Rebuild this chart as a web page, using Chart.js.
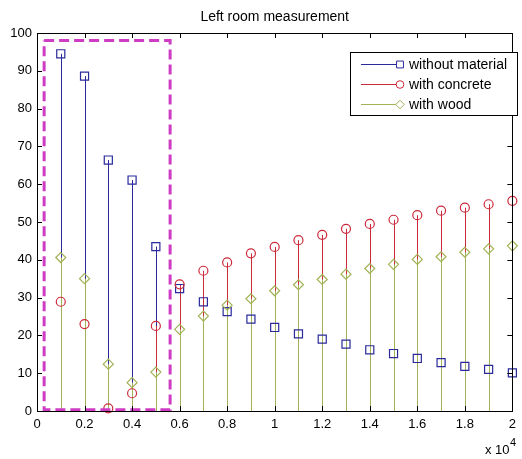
<!DOCTYPE html>
<html>
<head>
<meta charset="utf-8">
<script src="https://cdn.jsdelivr.net/npm/chart.js@4"></script>
<style>
  html, body { margin: 0; padding: 0; background: #fff; }
  #wrap { width: 522px; height: 459px; }
</style>
</head>
<body>
<div id="wrap"><canvas id="stemChart"></canvas></div>
<script>
// Datos del gráfico (frecuencia en Hz)
const frequencies = [1000, 2000, 3000, 4000, 5000, 6000, 7000, 8000, 9000, 10000,
    11000, 12000, 13000, 14000, 15000, 16000, 17000, 18000, 19000, 20000];
const withoutMaterial = [94.5, 88.6, 66.4, 61.1, 43.5, 32.4, 28.9, 26.3, 24.3, 22.1,
    20.4, 19.0, 17.7, 16.2, 15.2, 13.9, 12.8, 11.8, 11.0, 10.1];
const withConcrete = [28.9, 23.0, 0.7, 4.7, 22.5, 33.5, 37.1, 39.3, 41.7, 43.4,
    45.2, 46.6, 48.2, 49.5, 50.6, 51.8, 53.0, 53.8, 54.7, 55.6];
const withWood = [40.6, 35.0, 12.4, 7.5, 10.3, 21.6, 25.1, 28.0, 29.7, 31.8,
    33.4, 34.8, 36.2, 37.7, 38.8, 40.1, 40.8, 42.0, 42.9, 43.7];
const yTicks = [0, 10, 20, 30, 40, 50, 60, 70, 80, 90, 100];
const xTicks = [0, 2000, 4000, 6000, 8000, 10000, 12000, 14000, 16000, 18000, 20000];
// recuadro resaltado (zona de baja frecuencia)
const boxX = [300, 5600];
const boxY = [0.3, 98];

const FONT = '"Liberation Sans", Arial, sans-serif';
const BLUE = '#2a2a9c';
const RED = '#cc2a3a';
const GREEN = '#a2b256';
const MAGENTA = '#cf3cc4';

const toPoints = vals => vals.map((v, i) => ({ x: frequencies[i], y: v }));

const series = [
    { label: 'without material', data: withoutMaterial, color: BLUE, style: 'rect', radius: 5.7 },
    { label: 'with concrete', data: withConcrete, color: RED, style: 'circle', radius: 4.5 },
    { label: 'with wood', data: withWood, color: GREEN, style: 'rectRot', radius: 5 }
];

const datasets = series.map((s, i) => ({
    label: s.label,
    data: toPoints(s.data),
    pointStyle: s.style,
    pointRadius: s.radius,
    pointBorderColor: s.color,
    pointBackgroundColor: 'rgba(0,0,0,0)',
    pointBorderWidth: 1.2,
    clip: false,
    order: 3 - i
}));
datasets.push({
    data: [
        { x: boxX[0], y: boxY[1] }, { x: boxX[1], y: boxY[1] },
        { x: boxX[1], y: boxY[0] }, { x: boxX[0], y: boxY[0] },
        { x: boxX[0], y: boxY[1] }
    ],
    showLine: true,
    borderColor: MAGENTA,
    borderWidth: 3,
    borderDash: [10, 5],
    pointRadius: 0,
    clip: false,
    order: 0
});

// Tallos del gráfico tipo stem (por debajo de los marcadores)
const stems = {
    id: 'stems',
    beforeDatasetsDraw(chart) {
        const { ctx, scales } = chart;
        const y0 = scales.y.getPixelForValue(0);
        ctx.save();
        ctx.lineWidth = 1;
        series.forEach((s, i) => {
            const meta = chart.getDatasetMeta(i);
            ctx.strokeStyle = s.color;
            ctx.beginPath();
            meta.data.forEach(pt => {
                const x = Math.round(pt.x) + 0.5;
                ctx.moveTo(x, y0);
                ctx.lineTo(x, pt.y);
            });
            ctx.stroke();
        });
        ctx.restore();
    }
};

// Título, marco, marcas interiores, leyenda y exponente estilo MATLAB
const matlabFrame = {
    id: 'matlabFrame',
    afterDatasetsDraw(chart) {
        const { ctx, chartArea: a, scales } = chart;
        ctx.save();
        ctx.fillStyle = '#000';
        ctx.font = '14px ' + FONT;
        ctx.textAlign = 'center';
        ctx.textBaseline = 'middle';
        ctx.fillText('Left room measurement', (a.left + a.right) / 2, 17);

        ctx.strokeStyle = '#000';
        ctx.lineWidth = 1;
        ctx.strokeRect(Math.round(a.left) + 0.5, Math.round(a.top) + 0.5,
            Math.round(a.right - a.left), Math.round(a.bottom - a.top));
        const tl = 5;
        ctx.beginPath();
        xTicks.forEach(v => {
            const px = Math.round(scales.x.getPixelForValue(v)) + 0.5;
            ctx.moveTo(px, a.bottom); ctx.lineTo(px, a.bottom - tl);
            ctx.moveTo(px, a.top); ctx.lineTo(px, a.top + tl);
        });
        yTicks.forEach(v => {
            const py = Math.round(scales.y.getPixelForValue(v)) + 0.5;
            ctx.moveTo(a.left, py); ctx.lineTo(a.left + tl, py);
            ctx.moveTo(a.right, py); ctx.lineTo(a.right - tl, py);
        });
        ctx.stroke();

        // leyenda
        const lx = 350, ly = 52, lw = 167, lh = 63;
        ctx.fillStyle = '#fff';
        ctx.fillRect(lx, ly, lw, lh);
        ctx.strokeStyle = '#000';
        ctx.strokeRect(lx + 0.5, ly + 0.5, lw, lh);
        ctx.font = '14px ' + FONT;
        ctx.textBaseline = 'middle';
        series.forEach((s, i) => {
            const y = ly + 12 + i * 20;
            ctx.strokeStyle = s.color;
            ctx.lineWidth = 1;
            ctx.beginPath();
            ctx.moveTo(361, y + 0.5); ctx.lineTo(399, y + 0.5);
            ctx.stroke();
            ctx.fillStyle = '#fff';
            Chart.helpers.drawPoint(ctx, { pointStyle: s.style, radius: s.radius * 0.85, borderWidth: 1 }, 400, y + 0.5);
            ctx.fillStyle = '#000';
            ctx.textAlign = 'left';
            ctx.fillText(s.label, 409, y + 1);
        });

        // multiplicador del eje x
        ctx.fillStyle = '#000';
        ctx.textAlign = 'left';
        ctx.font = '13px ' + FONT;
        ctx.fillText('x 10', 485, 450);
        ctx.font = '11px ' + FONT;
        ctx.fillText('4', 510, 443);
        ctx.restore();
    }
};

new Chart(document.getElementById('stemChart'), {
    type: 'scatter',
    data: { datasets },
    options: {
        responsive: true,
        maintainAspectRatio: false,
        animation: false,
        layout: { padding: { left: 0, right: 7, top: 33, bottom: 0 } },
        plugins: {
            legend: { display: false },
            tooltip: { enabled: false },
            title: { display: false }
        },
        scales: {
            x: {
                type: 'linear',
                min: 0,
                max: 20000,
                grid: { display: false, drawTicks: false },
                border: { display: false },
                afterBuildTicks: s => { s.ticks = xTicks.map(v => ({ value: v })); },
                afterFit: s => { s.height = 48; },
                ticks: {
                    color: '#000',
                    padding: 6,
                    maxRotation: 0,
                    autoSkip: false,
                    font: { family: FONT, size: 13 },
                    callback: v => String(+(v / 10000).toFixed(1))
                }
            },
            y: {
                min: 0,
                max: 100,
                grid: { display: false, drawTicks: false },
                border: { display: false },
                afterBuildTicks: s => { s.ticks = yTicks.map(v => ({ value: v })); },
                afterFit: s => { s.width = 37; },
                ticks: {
                    color: '#000',
                    padding: 5,
                    font: { family: FONT, size: 13 }
                }
            }
        }
    },
    plugins: [stems, matlabFrame]
});
</script>
</body>
</html>
